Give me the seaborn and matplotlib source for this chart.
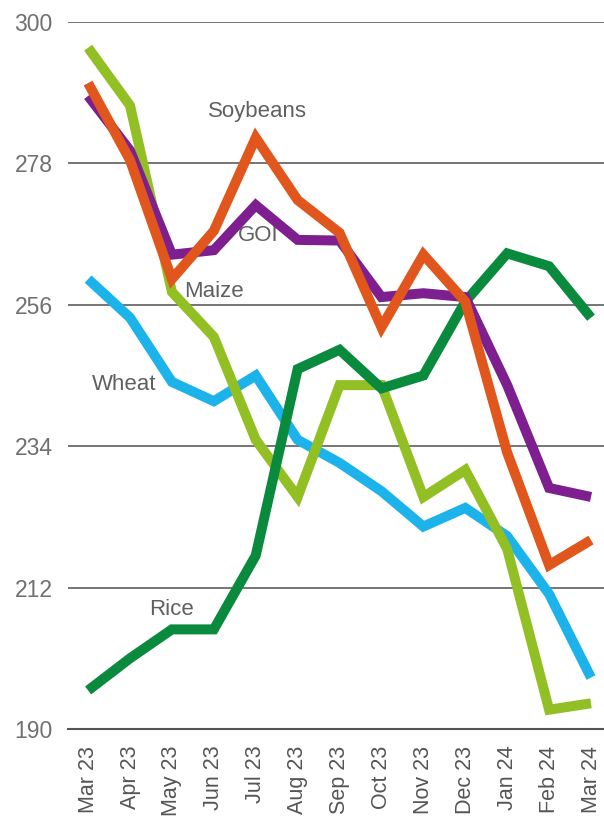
import matplotlib
matplotlib.use("Agg")
import matplotlib.pyplot as plt
import seaborn as sns
import pandas as pd

months = ["Mar 23", "Apr 23", "May 23", "Jun 23", "Jul 23", "Aug 23", "Sep 23",
          "Oct 23", "Nov 23", "Dec 23", "Jan 24", "Feb 24", "Mar 24"]
wheat = [260, 254, 244, 241, 245, 235, 231.4, 227, 221.5, 224.4, 220, 211, 198]
maize = [296, 287, 258, 251, 235, 226.1, 243.5, 243.5, 226.1, 230.3, 218, 193, 194]
rice = [196, 201, 205.5, 205.5, 217, 246, 249, 243, 245, 256.5, 264, 262, 254]
goi = [288.5, 280, 263.8, 264.5, 271.5, 266.1, 266, 257.2, 257.8, 257.2, 243.5, 227.5, 226.1]
soybeans = [290.5, 278.5, 260, 267.5, 282, 272.3, 267.2, 252.5, 263.8, 256.5, 233, 215.5, 219.4]
yticks = [190, 212, 234, 256, 278, 300]

series = {"Wheat": wheat, "Maize": maize, "Rice": rice, "GOI": goi, "Soybeans": soybeans}
colors = {"Wheat": "#1CB3EA", "Maize": "#92BF24", "Rice": "#0A8A3D",
          "GOI": "#7D1F8E", "Soybeans": "#E1561C"}

rows = []
for name, vals in series.items():
    for i, v in enumerate(vals):
        rows.append({"idx": i, "month": months[i], "value": v, "series": name})
df = pd.DataFrame(rows)

sns.set_style("white")
plt.rcParams["font.family"] = ["Liberation Sans", "DejaVu Sans"]

fig = plt.figure(figsize=(6.04, 8.19), dpi=100)
ax = fig.add_axes([68 / 604, 1 - 729 / 819, 1 - 68 / 604, (729 - 22) / 819])

for y in yticks:
    ax.axhline(y, color="#6a6a6a", lw=1.3, zorder=0)

for name in ["Wheat", "Maize", "Rice", "GOI", "Soybeans"]:
    sns.lineplot(data=df[df["series"] == name], x="idx", y="value", ax=ax,
                 color=colors[name], linewidth=7.2, legend=False,
                 solid_capstyle="butt", solid_joinstyle="miter", sort=True)

ax.set_xlim(-0.48, 12.31)
ax.set_ylim(190, 300)
ax.set_xticks(range(len(months)))
ax.set_xticklabels(months, rotation=90, fontsize=15.5, color="#555555")
ax.set_yticks(yticks)
ax.set_yticklabels([str(v) for v in yticks], fontsize=16.5, color="#707070")
ax.tick_params(axis="y", length=0, pad=11)
ax.tick_params(axis="x", length=8, width=1.5, color="#555555", direction="out", pad=4)
ax.set_xlabel("")
ax.set_ylabel("")
for s in ["top", "right", "left"]:
    ax.spines[s].set_visible(False)
ax.spines["bottom"].set_color("#555555")
ax.spines["bottom"].set_linewidth(1.5)

labels = [("Soybeans", 4.05, 286.0), ("GOI", 4.05, 266.8), ("Maize", 3.0, 258.0),
          ("Wheat", 0.85, 243.6), ("Rice", 2.0, 208.6)]
for text, x, y in labels:
    ax.text(x, y, text, fontsize=16, color="#606060", ha="center", va="center",
            zorder=1)

fig.savefig("out.png", dpi=100)
